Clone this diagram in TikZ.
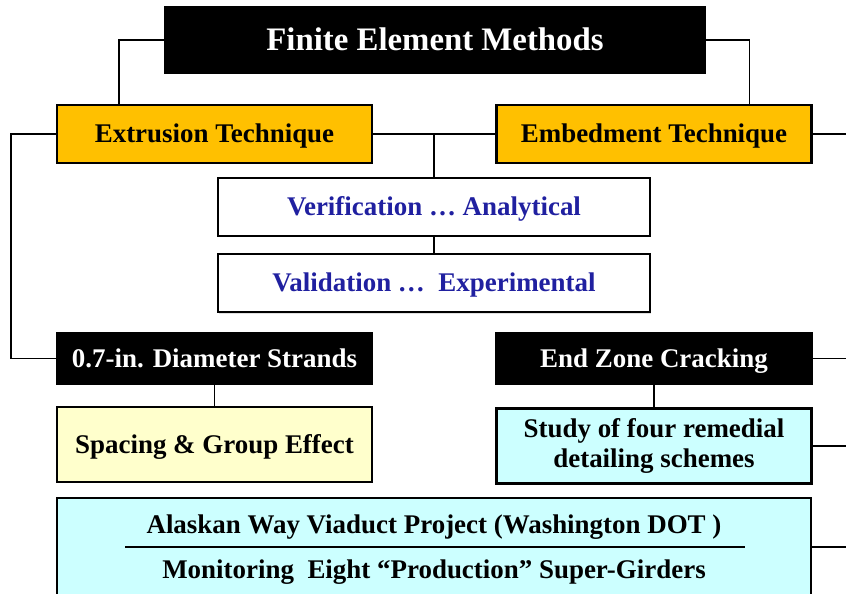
\documentclass[tikz,border=0pt]{standalone}
\usepackage{fontspec}
\setmainfont{Liberation Serif}
\usetikzlibrary{positioning}
\usetikzlibrary{calc}
\usetikzlibrary{shadows}

\definecolor{techgold}{HTML}{FFC000}
\definecolor{paleyellow}{HTML}{FFFFCC}
\definecolor{palecyan}{HTML}{CCFFFF}
\definecolor{checkblue}{HTML}{2020A0}

\begin{document}
\begin{tikzpicture}[x=0.03cm, y=-0.03cm,
		box/.style={draw, line width=1.8pt, rectangle, align=center, inner sep=0pt,
			font=\bfseries\fontsize{23}{27}\selectfont,
			drop shadow={opacity=0.25, shadow xshift=1pt, shadow yshift=-1.2pt}},
		oneline/.style={text height=15pt, text depth=0pt},
		darkbox/.style={box, oneline, fill=black, text=white},
		link/.style={line width=1.5pt}]
	\useasboundingbox (0,0) rectangle (846,594);
	\clip (0,0) rectangle (846,594);

	% top row
	\node[darkbox, minimum width=16.2cm, minimum height=1.98cm, font=\bfseries\fontsize{28}{32}\selectfont, text height=18.5pt] (fem) at (435,40) {Finite Element Methods};
	\node[box, oneline, fill=techgold, minimum width=9.45cm, minimum height=1.74cm] (extr) at (214.5,134) {Extrusion Technique};
	\node[box, oneline, fill=techgold, minimum width=9.45cm, minimum height=1.74cm] (embed) at (654,134) {Embedment Technique};

	% checks
	\node[box, oneline, fill=white, text=checkblue, minimum width=12.96cm, minimum height=1.74cm] (verif) at (434,207) {Verification \dots\ Analytical};
	\node[box, oneline, fill=white, text=checkblue, minimum width=12.96cm, minimum height=1.74cm, below=0.48cm of verif] (valid) {Validation \dots\ \ Experimental};

	% topics
	\node[darkbox, minimum width=9.45cm, minimum height=1.53cm] (strands) at (214.5,358.5) {0.7-in. Diameter Strands};
	\node[darkbox, minimum width=9.45cm, minimum height=1.53cm] (crack) at (654,358.5) {End Zone Cracking};
	\node[box, oneline, fill=paleyellow, minimum width=9.45cm, minimum height=2.25cm] (spacing) at (214.5,444.5) {Spacing \& Group Effect};
	\node[box, fill=palecyan, minimum width=9.45cm, minimum height=2.25cm, font=\bfseries\fontsize{23}{25}\selectfont] (study) at (654,446) {Study of four remedial\\detailing schemes};

	% project
	\node[box, fill=palecyan, minimum width=22.62cm, minimum height=3.6cm, anchor=north] (awv) at (434,497) {};
	\node[oneline, font=\bfseries\fontsize{23}{27}\selectfont] (awvtitle) at (434,525) {Alaskan Way Viaduct Project (Washington DOT )};
	\node[oneline, font=\bfseries\fontsize{23}{27}\selectfont] (awvmon) at (434,570) {Monitoring~ Eight ``Production'' Super-Girders};
	\coordinate (rulel) at (125,547);
	\coordinate (ruler) at (745,547);
	\draw[line width=1.8pt] (rulel) -- (ruler);

	% connectors
	\draw[link] (fem.west) -| ($(extr.north west)+(63,0)$);
	\draw[link] (fem.east) -| ($(embed.north east)+(-63,0)$);
	\draw[link] (extr.east) -- (embed.west);
	\draw[link] (verif.north) -- (verif.north |- extr.east);
	\draw[link] (verif.south) -- (valid.north);
	\draw[link] (extr.west) -- ++(-45,0) |- (strands.west);
	\draw[link] (strands.south) -- (spacing.north);
	\draw[link] (crack.south) -- (study.north);
	\draw[link] (embed.east) -- ++(40,0);
	\draw[link] (crack.east) -- ++(40,0);
	\draw[link] (study.east) -- ++(40,0);
	\draw[link] (ruler -| awv.east) -- ++(40,0);
\end{tikzpicture}
\end{document}
